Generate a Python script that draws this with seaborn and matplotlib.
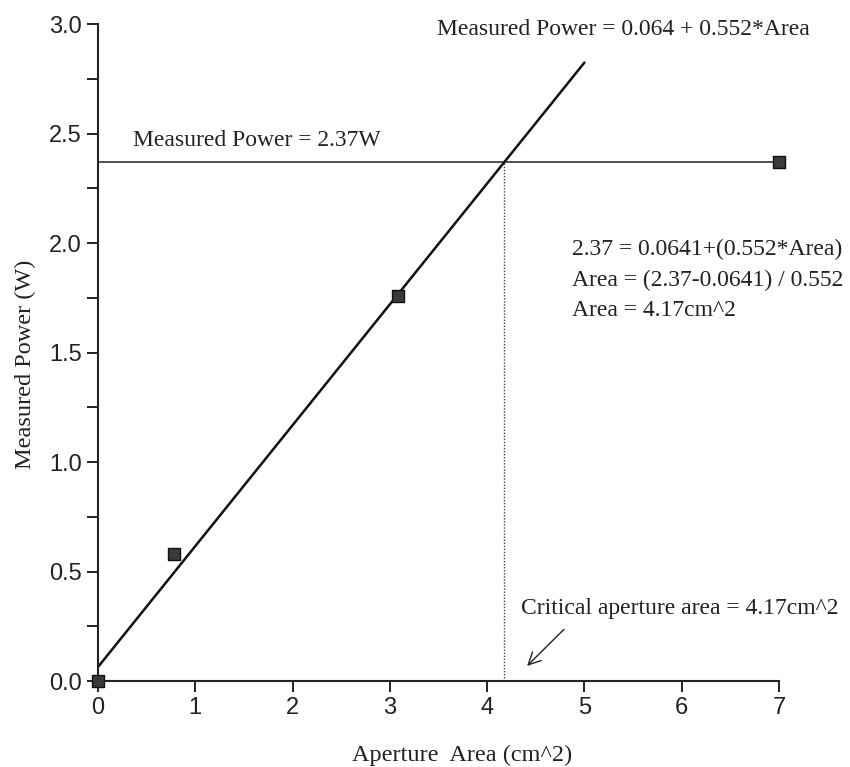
import matplotlib
matplotlib.use("Agg")
import matplotlib.pyplot as plt
import seaborn as sns
import pandas as pd
from matplotlib.ticker import MultipleLocator

# Data
area = [0.0, 0.78, 3.08, 7.0]
power = [0.0, 0.58, 1.76, 2.37]
fit_x = [0.0, 5.0]
fit_y = [0.064, 2.824]
measured_power = 2.37
critical_area = 4.17

sns.set_theme(style="ticks")
plt.rcParams['font.family'] = ['Liberation Sans', 'DejaVu Sans']
serif = ['Liberation Serif', 'DejaVu Serif']

fig = plt.figure(figsize=(8.5, 7.67), dpi=100)
ax = fig.add_axes([0.1153, 0.1121, 0.8012, 0.8566])

df = pd.DataFrame({"area": area, "power": power})
fit = pd.DataFrame({"x": fit_x, "y": fit_y})

ax.axhline(measured_power, xmin=0, xmax=1, color="#222222", lw=1.1, zorder=1)
ax.plot([critical_area, critical_area], [0, measured_power], color="#444444",
        lw=1.0, ls=(0, (1, 1.2)), zorder=1)
sns.lineplot(data=fit, x="x", y="y", ax=ax, color="#111111", lw=1.8, zorder=2)
sns.scatterplot(data=df, x="area", y="power", ax=ax, marker="s", s=70,
                color="#3a3a3a", edgecolor="#111111", linewidth=1.0,
                zorder=3, clip_on=False)

ax.set_xlim(0, 7)
ax.set_ylim(0, 3.0)
ax.xaxis.set_major_locator(MultipleLocator(1))
ax.yaxis.set_minor_locator(MultipleLocator(0.25))
ax.set_yticks([0, 0.5, 1.0, 1.5, 2.0, 2.5, 3.0])
ax.set_yticklabels(["0.0", "0.5", "1.0", "1.5", "2.0", "2.5", "3.0"])
ax.tick_params(axis="both", which="major", length=8, width=1.4,
               labelsize=17, colors="#222222", direction="out")
ax.tick_params(axis="y", which="minor", length=8, width=1.4, direction="out",
               colors="#222222")
sns.despine(ax=ax)
for s in ["left", "bottom"]:
    ax.spines[s].set_linewidth(1.5)
    ax.spines[s].set_color("#222222")

ax.set_xlabel("Aperture  Area (cm^2)", family=serif, fontsize=17.5,
              color="#222222", va="center")
ax.set_ylabel("Measured Power (W)", family=serif, fontsize=17.5,
              color="#222222", va="center")
ax.xaxis.set_label_coords(0.535, -0.113)
ax.yaxis.set_label_coords(-0.107, 0.4825)

tkw = dict(family=serif, fontsize=17, color="#222222")
ax.text(0.36, 2.47, "Measured Power = 2.37W", ha="left", va="center", **tkw)
ax.text(3.48, 2.975, "Measured Power = 0.064 + 0.552*Area", ha="left",
        va="center", clip_on=False, **tkw)
ax.text(4.87, 1.97, "2.37 = 0.0641+(0.552*Area)", ha="left", va="center", **tkw)
ax.text(4.87, 1.83, "Area = (2.37-0.0641) / 0.552", ha="left", va="center", **tkw)
ax.text(4.87, 1.69, "Area = 4.17cm^2", ha="left", va="center", **tkw)
ax.text(4.35, 0.33, "Critical aperture area = 4.17cm^2", ha="left",
        va="center", **tkw)
ax.annotate("", xy=(4.39, 0.06), xytext=(4.81, 0.245),
            arrowprops=dict(arrowstyle="->", color="#222222", lw=1.0,
                            mutation_scale=22))

fig.savefig("out.png", dpi=100)
